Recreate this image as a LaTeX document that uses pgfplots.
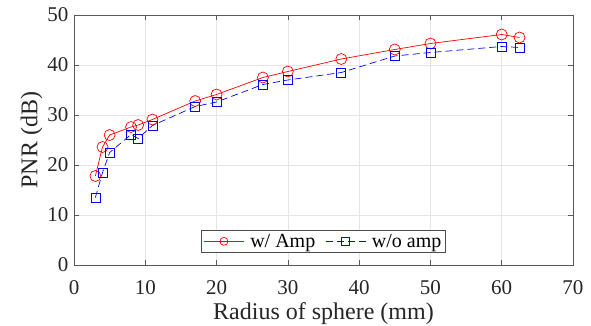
\documentclass[border=0pt]{standalone}
\usepackage{fontspec}
\setmainfont{Liberation Serif}
\usepackage{pgfplots}
\pgfplotsset{compat=1.18}
\begin{document}
\begin{tikzpicture}[x=1pt,y=1pt]
\path[use as bounding box] (-74,-60) rectangle (517,265);
\begin{axis}[
  at={(0,0)}, anchor=south west,
  scale only axis, width=499pt, height=250pt,
  xmin=0, xmax=70, ymin=0, ymax=50,
  xtick={0,10,...,70}, ytick={0,10,...,50},
  xticklabels={0,10,20,30,40,50,60,70},
  yticklabels={0,10,20,30,40,50},
  grid=major, major grid style={gray!20, line width=0.6pt},
  axis line style={gray!70!black, line width=0.6pt},
  tick style={gray!70!black, line width=0.6pt},
  tick align=inside, major tick length=5pt,
  ticklabel style={font=\fontsize{21}{21}\selectfont, text=black!85},
  xticklabel style={yshift=-12pt},
  yticklabel style={xshift=-2pt},
  xlabel={Radius of sphere (mm)}, ylabel={PNR (dB)},
  label style={font=\fontsize{24}{24}\selectfont, text=black!85},
  xlabel style={yshift=-1pt}, ylabel style={yshift=-2pt},
  legend columns=2,
  legend style={at={(0.5,0.048)}, anchor=south, font=\fontsize{20}{20}\selectfont,
    draw=gray!60!black, line width=0.6pt, inner sep=2pt,
    /tikz/every even column/.append style={column sep=8pt},
    /tikz/every odd column/.append style={column sep=4pt}},
  legend image code/.code={\draw[#1] (0pt,0pt) -- (40pt,0pt); \draw[#1, solid, mark size=4pt] plot coordinates {(20pt,0pt)};},
]
\addplot[red, line width=0.7pt, mark=o, mark size=5.5pt, mark options={solid, line width=0.7pt}] coordinates {
(3,17.8) (4,23.6) (5,26) (8,27.6) (9,28) (11,29.1) (17,32.8) (20,34.1) (26.5,37.5) (30,38.7) (37.5,41.2) (45,43.1) (50,44.3) (60,46.1) (62.5,45.5)};
\addlegendentry{w/ Amp}
\addplot[blue, line width=0.7pt, dash pattern=on 7pt off 4pt, mark=square, mark size=4.5pt, mark options={solid, line width=0.7pt}] coordinates {
(3,13.5) (4,18.5) (5,22.5) (8,26.1) (9,25.3) (11,27.9) (17,31.7) (20,32.6) (26.5,36.1) (30,37) (37.5,38.5) (45,41.8) (50,42.5) (60,43.7) (62.5,43.5)};
\addlegendentry{w/o amp}
\end{axis}
\end{tikzpicture}
\end{document}
